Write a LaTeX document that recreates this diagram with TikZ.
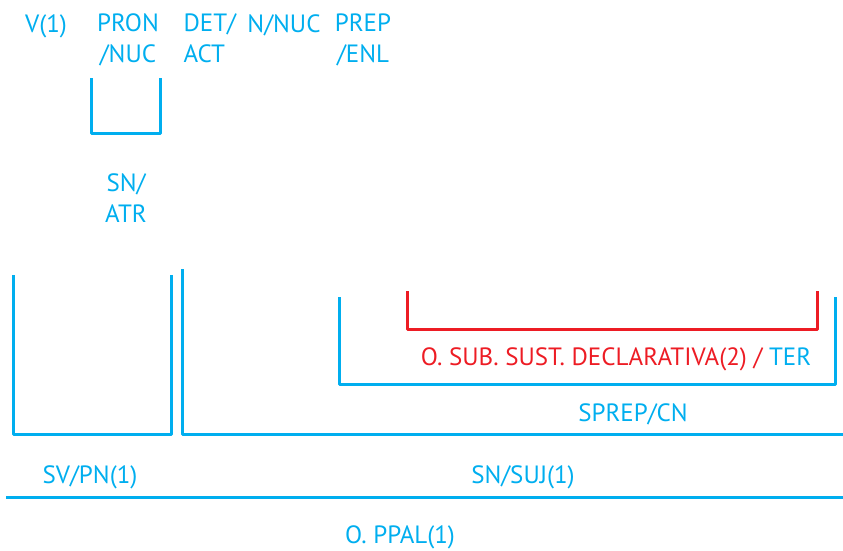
\documentclass[tikz,border=0pt]{standalone}
\usepackage{fontspec}
\setmainfont{PT Sans}
\definecolor{treeblue}{RGB}{0,174,239}
\definecolor{treered}{RGB}{237,28,36}

\begin{document}
\begin{tikzpicture}[x=1pt,y=-1pt,line width=3pt,text=treeblue,
    font=\fontsize{25}{31}\selectfont]
    \tikzstyle{bracket}=[draw=treeblue,line join=round]
    \tikzstyle{sub bracket}=[bracket,draw=treered]
    \tikzstyle{word}=[inner sep=0pt,align=center,anchor=base]
    \tikzstyle{func}=[word]

    \useasboundingbox (0,0) rectangle (843,550);

    % Draw the words of the sentence
    \node[word] (V) at (46,32) {V(1)};
    \node[word] (PRON) at (128,62) {PRON\\/NUC};
    \node[word,align=left,anchor=base west] (DET) at (182,62) {DET/\\ACT};
    \node[word] (N) at (284,32) {N/NUC};
    \node[word] (PREP) at (363,62) {PREP\\/ENL};

    % Draw the brackets that close a group
    \foreach \xl/\xr/\yt/\yb in {91/160/78/133, 13/171/275/434, 339/835/297/384}
        \draw[bracket] (\xl,\yt) |- (\xr,\yb) -- (\xr,\yt);
    \draw[bracket] (182,269) |- (843,434);
    \draw[sub bracket] (407,291) |- (817,329) -- (817,291);
    \draw[bracket] (6,497) -- (843,497);

    % Annotate the groups
    \node[func] (SN-ATR) at (126,222) {SN/\\ATR};
    \node[func,text=treered] (OSUB) at (616,365)
        {O. SUB. SUST. DECLARATIVA(2) / \textcolor{treeblue}{TER}};
    \node[func] (SPREP) at (633,421) {SPREP/CN};
    \node[func] (SV) at (90,483) {SV/PN(1)};
    \node[func] (SN-SUJ) at (523,483) {SN/SUJ(1)};
    \node[func] (O) at (400,543) {O. PPAL(1)};
\end{tikzpicture}
\end{document}
